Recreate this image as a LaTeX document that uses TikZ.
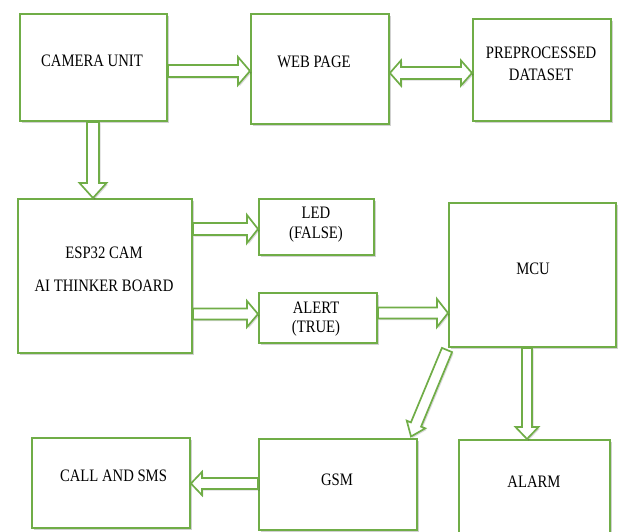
\documentclass[tikz,border=0pt]{standalone}
\usepackage{fontspec}
\setmainfont{Liberation Serif}[FakeStretch=0.84]
\usetikzlibrary{calc,shadows}
\definecolor{grn}{HTML}{70AD47}
\tikzset{
  box/.style={draw=grn, line width=1.9pt, fill=white, rectangle, inner sep=0pt, anchor=north west,
    drop shadow={fill=black, opacity=0.18, shadow xshift=2.2pt, shadow yshift=-2.2pt},
    drop shadow={fill=black, opacity=0.12, shadow xshift=1.2pt, shadow yshift=-1.2pt}},
  lbl/.style={font=\fontsize{17.5}{19}\selectfont, inner sep=0pt, text=black},
  barrow/.style={draw=grn, line width=1.7pt, fill=white, line join=miter,
    drop shadow={fill=black, opacity=0.15, shadow xshift=1.5pt, shadow yshift=-1.5pt}},
}
% single block arrow: #1 start, #2 tip, #3 shaft half width, #4 head half width, #5 head length
\newcommand{\blockarr}[5]{%
  \coordinate (ba-h) at ($(#2)!#5!(#1)$);
  \draw[barrow] ($(#1)!#3!90:(#2)$) -- ($(ba-h)!#3!-90:(#1)$) -- ($(ba-h)!#4!-90:(#1)$)
    -- (#2) -- ($(ba-h)!#4!90:(#1)$) -- ($(ba-h)!#3!90:(#1)$) -- ($(#1)!#3!-90:(#2)$) -- cycle;
}
% double block arrow: #1 tip A, #2 tip B
\newcommand{\dblockarr}[5]{%
  \coordinate (da-a) at ($(#1)!#5!(#2)$);
  \coordinate (da-b) at ($(#2)!#5!(#1)$);
  \draw[barrow] (#1) -- ($(da-a)!#4!90:(#2)$) -- ($(da-a)!#3!90:(#2)$) -- ($(da-b)!#3!-90:(#1)$)
    -- ($(da-b)!#4!-90:(#1)$) -- (#2) -- ($(da-b)!#4!90:(#1)$) -- ($(da-b)!#3!90:(#1)$)
    -- ($(da-a)!#3!-90:(#2)$) -- ($(da-a)!#4!-90:(#2)$) -- cycle;
}
\begin{document}
\begin{tikzpicture}[x=1pt, y=-1pt]
\useasboundingbox (0,0) rectangle (619,531);
\clip (0,0) rectangle (619,531);
\fill[white] (0,0) rectangle (619,531);

% boxes
\node[box, minimum width=147pt, minimum height=107pt] (cam)   at (19,13)  {};
\node[box, minimum width=138pt, minimum height=110pt] (web)   at (250,13) {};
\node[box, minimum width=138pt, minimum height=102pt] (data)  at (472,18) {};
\node[box, minimum width=174pt, minimum height=154pt] (esp)   at (17,198) {};
\node[box, minimum width=115pt, minimum height=56pt]  (led)   at (258,198) {};
\node[box, minimum width=118pt, minimum height=50pt]  (alert) at (258,292) {};
\node[box, minimum width=167pt, minimum height=144pt] (mcu)   at (448,202) {};
\node[box, minimum width=158pt, minimum height=90pt]  (call)  at (31,437) {};
\node[box, minimum width=158pt, minimum height=91pt]  (gsm)   at (258,438) {};
\node[box, minimum width=151pt, minimum height=110pt] (alarm) at (458,439) {};

% labels
\node[lbl] (tcam)   at (92,61)    {CAMERA UNIT};
\node[lbl] (tweb)   at (314,62)   {WEB PAGE};
\node[lbl] (tdata1) at (541,53)   {PREPROCESSED};
\node[lbl] (tdata2) at (541,74.5) {DATASET};
\node[lbl] (tesp1)  at (104,253)  {ESP32 CAM};
\node[lbl] (tesp2)  at (104,286)  {AI THINKER BOARD};
\node[lbl] (tled1)  at (316,213)  {LED};
\node[lbl] (tled2)  at (316,234.5){(FALSE)};
\node[lbl] (tal1)   at (316,308)  {ALERT};
\node[lbl] (tal2)   at (316,328.5){(TRUE)};
\node[lbl] (tmcu)   at (533,269)  {MCU};
\node[lbl] (tcall)  at (113.5,476){CALL AND SMS};
\node[lbl] (tgsm)   at (337,480)  {GSM};
\node[lbl] (talarm) at (534,482)  {ALARM};

% connector end points
\coordinate (c1s) at (cam.east |- 0,71);
\coordinate (c1t) at (web.west |- 0,71);
\coordinate (c2s) at (web.east |- 0,73);
\coordinate (c2t) at (data.west |- 0,73);
\coordinate (c3s) at (cam.south -| 93,0);
\coordinate (c3t) at (esp.north -| 93,0);
\coordinate (c4s) at (esp.east |- 0,229);
\coordinate (c4t) at (led.west |- 0,229);
\coordinate (c5s) at (esp.east |- 0,314);
\coordinate (c5t) at (alert.west |- 0,314);
\coordinate (c6s) at (alert.east |- 0,313);
\coordinate (c6t) at (mcu.west |- 0,313);
\coordinate (c7s) at (447,350);
\coordinate (c7t) at (411,436.5);
\coordinate (c8s) at (mcu.south -| 527,0);
\coordinate (c8t) at (alarm.north -| 527,0);
\coordinate (c9s) at (gsm.west |- 0,483.5);
\coordinate (c9t) at (call.east |- 0,483.5);

% arrows
\blockarr{c1s}{c1t}{6pt}{14pt}{12pt}
\dblockarr{c2s}{c2t}{6pt}{12.5pt}{11pt}
\blockarr{c3s}{c3t}{6pt}{13.5pt}{15pt}
\blockarr{c4s}{c4t}{6pt}{14pt}{11pt}
\blockarr{c5s}{c5t}{5.5pt}{13pt}{11pt}
\blockarr{c6s}{c6t}{5.5pt}{14pt}{11pt}
\blockarr{c7s}{c7t}{5.5pt}{10pt}{13pt}
\blockarr{c8s}{c8t}{5pt}{11.5pt}{12pt}
\blockarr{c9s}{c9t}{5.5pt}{11.5pt}{11pt}
\end{tikzpicture}
\end{document}
